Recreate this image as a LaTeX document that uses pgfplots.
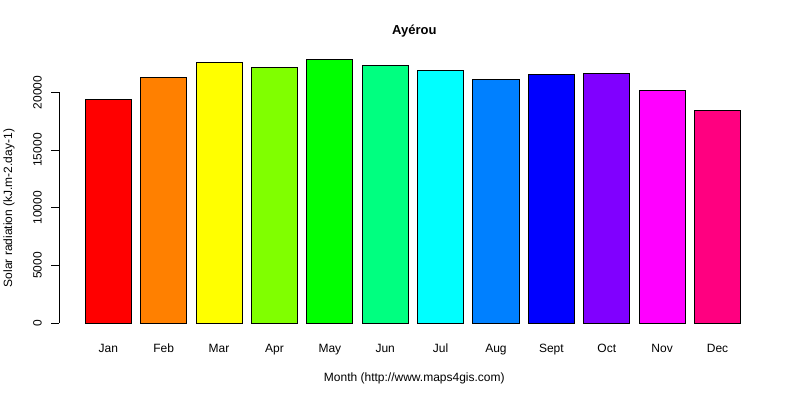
\documentclass[border=0pt]{standalone}
\usepackage{fontspec}
\setmainfont{Liberation Sans}
\usepackage{pgfplots}
\pgfplotsset{compat=1.18}

% R rainbow(12)
\definecolor{m1}{HTML}{FF0000}
\definecolor{m2}{HTML}{FF8000}
\definecolor{m3}{HTML}{FFFF00}
\definecolor{m4}{HTML}{80FF00}
\definecolor{m5}{HTML}{00FF00}
\definecolor{m6}{HTML}{00FF80}
\definecolor{m7}{HTML}{00FFFF}
\definecolor{m8}{HTML}{0080FF}
\definecolor{m9}{HTML}{0000FF}
\definecolor{m10}{HTML}{8000FF}
\definecolor{m11}{HTML}{FF00FF}
\definecolor{m12}{HTML}{FF0080}

\begin{document}
\begin{tikzpicture}[x=1pt,y=1pt]
\path[use as bounding box] (0,0) rectangle (800,400);
\begin{axis}[
    at={(59pt,77pt)}, anchor=south west,
    scale only axis,
    width=710.6pt, height=276.8pt,
    xmin=-0.89, xmax=11.94,
    ymin=0, ymax=24000,
    axis lines*=left,
    axis line style={draw=none},
    xtick={0,...,11},
    xticklabels={Jan,Feb,Mar,Apr,May,Jun,Jul,Aug,Sept,Oct,Nov,Dec},
    xtick style={draw=none},
    xticklabel style={anchor=base, yshift=-21.7pt},
    ytick={0,5000,10000,15000,20000},
    ytick style={black, line width=0.8pt},
    tick align=outside,
    major tick length=8pt,
    yticklabel style={rotate=90, anchor=center, yshift=13.5pt},
    scaled y ticks=false,
    /pgf/number format/1000 sep={},
    /pgf/number format/assume math mode=true,
    tick label style={font=\fontsize{12}{14}\selectfont},
    clip=false,
    mybar/.style={ybar, bar width=0.8333, bar shift=0pt, draw=black, line width=0.9pt},
]
\addplot[mybar, fill=m1]  coordinates {(0,19400)};
\addplot[mybar, fill=m2]  coordinates {(1,21310)};
\addplot[mybar, fill=m3]  coordinates {(2,22610)};
\addplot[mybar, fill=m4]  coordinates {(3,22200)};
\addplot[mybar, fill=m5]  coordinates {(4,22870)};
\addplot[mybar, fill=m6]  coordinates {(5,22290)};
\addplot[mybar, fill=m7]  coordinates {(6,21920)};
\addplot[mybar, fill=m8]  coordinates {(7,21140)};
\addplot[mybar, fill=m9]  coordinates {(8,21510)};
\addplot[mybar, fill=m10] coordinates {(9,21680)};
\addplot[mybar, fill=m11] coordinates {(10,20180)};
\addplot[mybar, fill=m12] coordinates {(11,18390)};
% y axis line spans only the tick range, as in R
\draw[line width=0.8pt] (rel axis cs:0,0) -- (rel axis cs:0,0.83333);
\end{axis}
\node[font=\fontsize{13}{15}\selectfont\bfseries] at (414.3,369) {Ayérou};
\node[font=\fontsize{12}{14}\selectfont] at (414.3,22) {Month (http://www.maps4gis.com)};
\node[font=\fontsize{12}{14}\selectfont, rotate=90] at (9,192) {Solar radiation (kJ.m-2.day-1)};
\end{tikzpicture}
\end{document}
